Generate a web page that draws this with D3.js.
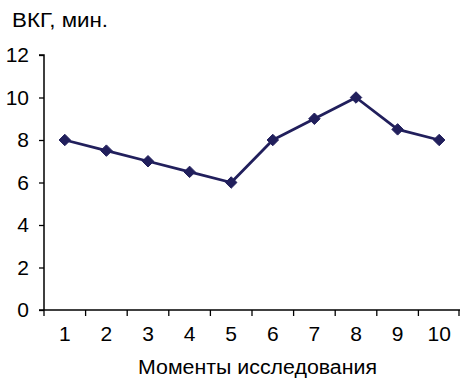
<!DOCTYPE html>
<html><head><meta charset="utf-8">
<script src="https://cdn.jsdelivr.net/npm/d3@7"></script>
<style>
html,body{margin:0;padding:0;background:#fff;}
svg{display:block;font-family:"Liberation Sans",Arial,Helvetica,sans-serif;}
</style></head>
<body><svg id="c" width="460" height="378"></svg>
<script>
const categories = ["1","2","3","4","5","6","7","8","9","10"];
const values = [8, 7.5, 7, 6.5, 6, 8, 9, 10, 8.5, 8];
const yTicks = [0, 2, 4, 6, 8, 10, 12];
const yTitle = "ВКГ, мин.";
const xTitle = "Моменты исследования";

const svg = d3.select("#c");
const color = "#211f5c";
const x0 = 44, x1 = 460, yTop = 55, yBot = 310;

const x = d3.scaleBand().domain(categories).range([x0, x1]);
const y = d3.scaleLinear().domain([0, 12]).range([yBot, yTop]);

// Y axis
const ya = svg.append("g").attr("transform", `translate(${x0},0)`)
  .call(d3.axisLeft(y).tickValues(yTicks).tickSize(5).tickPadding(10).tickFormat(d3.format("d")));
ya.select(".domain").attr("stroke", "#000").attr("stroke-width", 1.5).attr("d", `M-5,${yTop}H0V${yBot}`);
ya.selectAll(".tick line").attr("stroke", "#000").attr("stroke-width", 1.3);
ya.selectAll(".tick text").attr("font-size", 21).attr("fill", "#000").attr("font-family", "Liberation Sans, Arial, sans-serif");

// X axis
const xa = svg.append("g").attr("transform", `translate(0,${yBot})`);
xa.append("line").attr("x1", x0 - 5).attr("x2", x1).attr("y1", 0).attr("y2", 0)
  .attr("stroke", "#000").attr("stroke-width", 1.5);
const bounds = categories.map(c => x(c)).concat([x1 - 1]);
xa.selectAll("line.t").data(bounds).join("line").attr("class", "t")
  .attr("x1", d => d).attr("x2", d => d).attr("y1", 0).attr("y2", 6)
  .attr("stroke", "#000").attr("stroke-width", 1.3);
xa.selectAll("text").data(categories).join("text")
  .attr("x", d => x(d) + x.bandwidth() / 2).attr("y", 31)
  .attr("text-anchor", "middle").attr("font-size", 21).attr("fill", "#000")
  .text(d => d);

// Titles
svg.append("text").attr("x", 12).attr("y", 27).attr("font-size", 20).attr("fill", "#000")
  .attr("textLength", 96).attr("lengthAdjust", "spacingAndGlyphs").text(yTitle);
svg.append("text").attr("x", 138).attr("y", 374).attr("font-size", 20).attr("fill", "#000")
  .attr("textLength", 239).attr("lengthAdjust", "spacingAndGlyphs").text(xTitle);

// Line
const line = d3.line().x((d, i) => x(categories[i]) + x.bandwidth() / 2).y(d => y(d));
svg.append("path").datum(values).attr("d", line).attr("fill", "none")
  .attr("stroke", color).attr("stroke-width", 2.8).attr("stroke-linejoin", "round");

// Markers
svg.selectAll("path.m").data(values).join("path").attr("class", "m")
  .attr("d", d3.symbol().type(d3.symbolDiamond2 || d3.symbolDiamond).size(84))
  .attr("transform", (d, i) => `translate(${x(categories[i]) + x.bandwidth() / 2},${y(d)})`)
  .attr("fill", color).attr("stroke", color).attr("stroke-width", 1);
</script></body></html>
